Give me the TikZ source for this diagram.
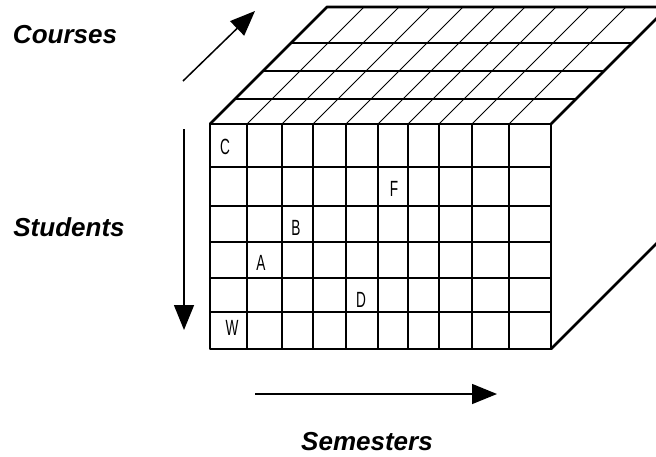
\documentclass[tikz,border=0pt]{standalone}
\usepackage{fontspec}
\setmainfont{Liberation Sans}
\usetikzlibrary{arrows.meta,calc,positioning}
\tikzset{
    cube diagram/.style = {x=1pt, y=-1pt,
                           >={Triangle[length=25pt, width=20pt]}},
    edge/.style         = {line width=2.8pt, line cap=round, line join=round},
    cellline/.style     = {line width=1.8pt},
    topline/.style      = {line width=1.6pt},
    depthline/.style    = {line width=0.9pt},
    axis/.style         = {line width=1.5pt, ->},
    axislabel/.style    = {font=\fontsize{26}{30}\selectfont\bfseries\itshape},
    cell/.style         = {font=\fontsize{22}{22}\selectfont, inner sep=0pt}
}
\newcommand{\cellmark}[1]{\scalebox{0.62}[1]{#1}}
\def\frontleft{210}
\def\frontright{551}
\def\fronttop{124}
\def\frontbot{349}
\def\depth{117}

\begin{document}
\begin{tikzpicture}[cube diagram]
\useasboundingbox (0,0) rectangle (656,456);
\clip (0,0) rectangle (656,456);

% ================= Top face (courses) =================
\foreach \y in {43,71,99}
    \draw[topline] ({\frontleft+\fronttop-\y},\y) -- ({\frontright+\fronttop-\y},\y);
\foreach \x in {247,282,313,346,378,408,439,472,509}
    \draw[depthline] (\x,\fronttop) -- ++(\depth,-\depth);
\draw[edge] (\frontleft,\fronttop) -- ++(\depth,-\depth) -- (700,7);
\draw[edge] (\frontright,\fronttop) -- ++(\depth,-\depth);

% ================= Side face =================
\draw[edge] (\frontright,\frontbot) -- ++(\depth,-\depth);

% ================= Front face (students x semesters) =================
\foreach \x in {247,282,313,346,378,408,439,472,509}
    \draw[cellline] (\x,\fronttop) -- (\x,\frontbot);
\foreach \y in {167,206,242,278,312}
    \draw[cellline] (\frontleft,\y) -- (\frontright,\y);
\draw[edge] (\frontleft,\fronttop) rectangle (\frontright,\frontbot);

% Entries in the grid.
\node[cell] (cC) at (225,147) {\cellmark{C}};
\node[cell] (cF) at (394,189) {\cellmark{F}};
\node[cell] (cB) at (296,228) {\cellmark{B}};
\node[cell] (cA) at (261,263) {\cellmark{A}};
\node[cell] (cD) at (361,300) {\cellmark{D}};
\node[cell] (cW) at (232,328) {\cellmark{W}};

% ================= Axes =================
\coordinate (courses tail) at (183,81);
\coordinate (courses head) at (255,11);
\coordinate (students tail) at (184,129);
\coordinate (students head) at (184,330);
\coordinate (semesters tail) at (255,394);
\coordinate (semesters head) at (497,394);
\draw[axis] (courses tail) -- (courses head);
\draw[axis] (students tail) -- (students head);
\draw[axis] (semesters tail) -- (semesters head);

\node[axislabel] (courses) at (65,35) {Courses};
\node[axislabel] (students) at (69,227) {Students};
\node[axislabel] (semesters) at (367,442) {Semesters};

\end{tikzpicture}
\end{document}
